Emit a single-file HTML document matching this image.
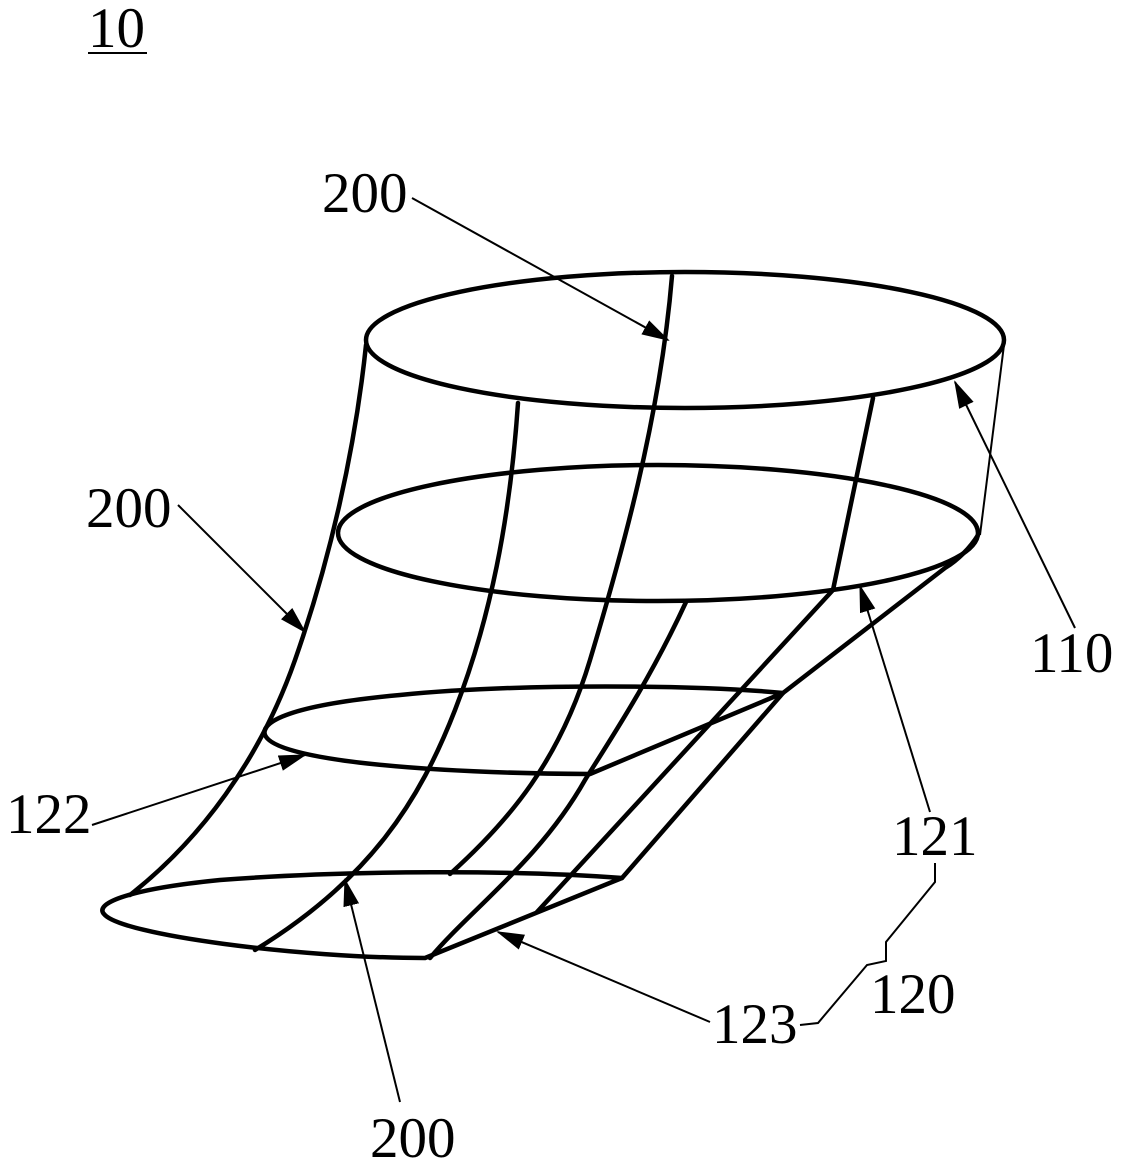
<!DOCTYPE html>
<html><head><meta charset="utf-8"><style>html,body{margin:0;padding:0;background:#fff}svg{display:block}text{font-family:"Liberation Serif",serif;font-size:57px;fill:#000}</style></head>
<body>
<svg width="1134" height="1166" viewBox="0 0 1134 1166" xmlns="http://www.w3.org/2000/svg">
<defs>
<marker id="a" markerWidth="28" markerHeight="16" refX="26" refY="8" orient="auto" markerUnits="userSpaceOnUse">
<path d="M0,0 L28,8 L0,16 Z" fill="#000"/>
</marker>
</defs>
<g fill="none" stroke="#000" stroke-width="4.5" stroke-linejoin="round" stroke-linecap="round">
<!-- top ellipse -->
<ellipse cx="685" cy="340" rx="319" ry="68"/>
<!-- second ellipse -->
<ellipse cx="658" cy="533" rx="320" ry="68"/>
<!-- third partial ellipse -->
<path d="M783,693 C700,685 520,683 400,695 C290,705 260,722 265,735 C275,760 420,773 590,774 L783,693"/>
<!-- bottom partial ellipse -->
<path d="M622,878 C520,870 350,870 220,880 C120,890 95,905 104,914 C120,935 300,958 425,958 L622,878"/>
<!-- left outer edge -->
<path d="M366,345 C355,450 330,560 295,660 C260,760 200,840 130,895"/>
<!-- meridian 1 -->
<path d="M518,403 C510,520 490,620 455,710 C420,800 370,880 255,950"/>
<!-- meridian 2 -->
<path d="M672,276 C660,420 620,560 590,660 C560,760 510,820 450,874"/>
<!-- meridian 3 -->
<path d="M686,602 C650,680 610,740 585,780 C540,860 470,910 430,958"/>
<!-- meridian 4 -->
<path d="M873,398 L833,590 L537,912"/>
<!-- right slanted -->
<path d="M978,535 C970,548 958,560 945,568 L783,693 L622,878"/>
</g>
<g fill="none" stroke="#000" stroke-width="2">
<!-- right thin edge -->
<line x1="1004" y1="345" x2="980" y2="535"/>
<!-- leaders -->
<line x1="412" y1="198" x2="668" y2="340" marker-end="url(#a)"/>
<line x1="178" y1="505" x2="305" y2="632" marker-end="url(#a)"/>
<line x1="1075" y1="628" x2="955" y2="382" marker-end="url(#a)"/>
<line x1="930" y1="812" x2="860" y2="586" marker-end="url(#a)"/>
<line x1="92" y1="825" x2="305" y2="755" marker-end="url(#a)"/>
<line x1="400" y1="1102" x2="345" y2="880" marker-end="url(#a)"/>
<line x1="710" y1="1022" x2="498" y2="932" marker-end="url(#a)"/>
<polyline points="935,863 935,882 886,942 886,961 867,965 818,1023 800,1025"/>
<line x1="88" y1="53" x2="147" y2="53"/>
</g>
<text x="88" y="47">10</text>
<text x="322" y="212">200</text>
<text x="86" y="527">200</text>
<text x="1030" y="672">110</text>
<text x="892" y="855">121</text>
<text x="6" y="833">122</text>
<text x="870" y="1013">120</text>
<text x="712" y="1043">123</text>
<text x="370" y="1157">200</text>
</svg>
</body></html>
